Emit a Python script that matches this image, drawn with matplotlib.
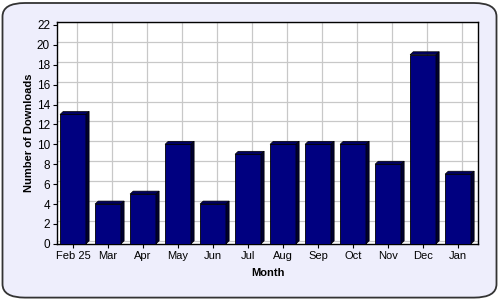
import matplotlib
matplotlib.use("Agg")
import matplotlib.pyplot as plt
from matplotlib.patches import Polygon, FancyBboxPatch

plt.rcParams["font.family"] = ["Liberation Sans", "DejaVu Sans"]

months = ["Feb 25", "Mar", "Apr", "May", "Jun", "Jul", "Aug", "Sep", "Oct", "Nov", "Dec", "Jan"]
downloads = [13, 4, 5, 10, 4, 9, 10, 10, 10, 8, 19, 7]
yticks = list(range(0, 23, 2))

fig = plt.figure(figsize=(5, 3), dpi=100)
fig.patch.set_facecolor("white")
bg = FancyBboxPatch((0.005, 0.008), 0.988, 0.982, boxstyle="round,pad=0,rounding_size=0.045",
                    transform=fig.transFigure, facecolor="#EEEEFC", edgecolor="#333333",
                    linewidth=1.3, zorder=-10)
fig.patches.append(bg)

ax = fig.add_axes([0.114, 0.187, 0.842, 0.74])
ax.set_facecolor("white")
ax.set_xlim(-0.457, 11.57)
ax.set_ylim(0, 22.3)

w = 0.74
dx, dy = 0.09, 0.3
gdx, gdy = 0.11, 0.3
x = list(range(len(months)))

# back-wall grid (shifted for depth)
for xi in x:
    ax.axvline(xi + gdx, color="#C8C8C8", linewidth=0.9, zorder=0)
for t in yticks:
    ax.axhline(t + gdy, color="#C8C8C8", linewidth=0.9, zorder=0)

ax.bar(x, downloads, width=w, color="#000080", edgecolor="black", linewidth=0.6, zorder=3)
for xi, v in zip(x, downloads):
    l, r = xi - w / 2, xi + w / 2
    ax.add_patch(Polygon([(l, v), (l + dx, v + dy), (r + dx, v + dy), (r, v)],
                         closed=True, facecolor="#000060", edgecolor="black", linewidth=0.5, zorder=3))
    ax.add_patch(Polygon([(r, 0), (r + dx, dy), (r + dx, v + dy), (r, v)],
                         closed=True, facecolor="#000030", edgecolor="black", linewidth=0.5, zorder=3))

ax.set_xticks(x)
ax.set_xticklabels(months, fontsize=8)
ax.set_yticks(yticks)
ax.set_yticklabels([str(t) for t in yticks], fontsize=8.5)
for s in ["top", "right", "left", "bottom"]:
    ax.spines[s].set_color("black")
    ax.spines[s].set_linewidth(1.0)
ax.tick_params(length=3, width=0.8, pad=2)
ax.set_xlabel("Month", fontsize=8, fontweight="bold", labelpad=5)
ax.set_ylabel("Number of Downloads", fontsize=8, fontweight="bold", labelpad=2)

fig.savefig("out.png", dpi=100, facecolor=fig.get_facecolor())
